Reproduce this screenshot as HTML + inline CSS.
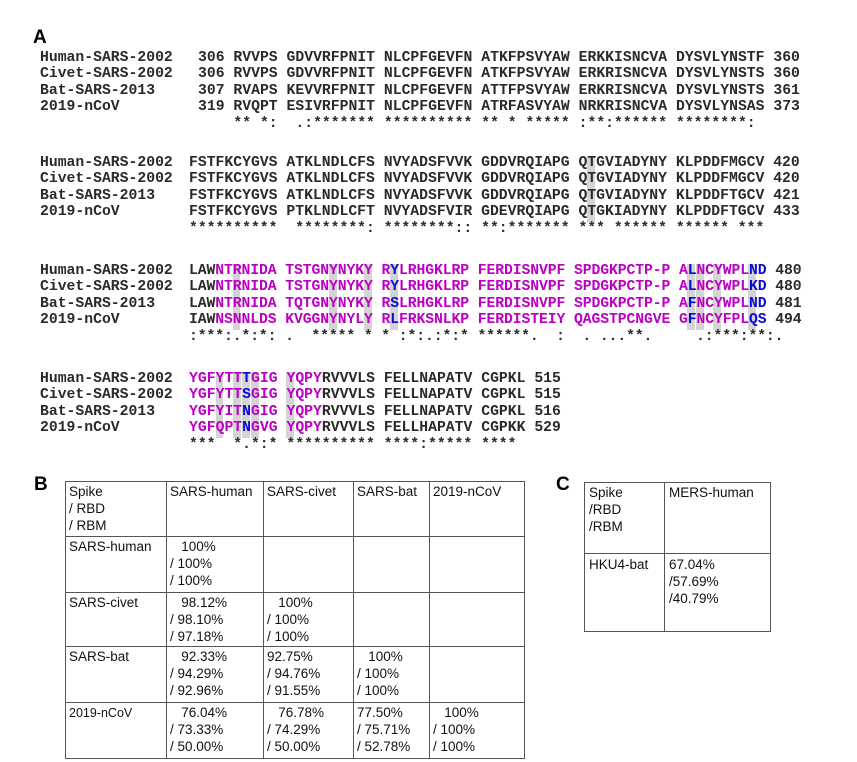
<!DOCTYPE html>
<html><head><meta charset="utf-8">
<style>
body{margin:0;background:#fff;width:857px;height:762px;position:relative;overflow:hidden;font-family:"Liberation Sans",Arial,sans-serif;}
.lbl{position:absolute;font-weight:bold;font-size:19px;}
.seq{position:absolute;font-family:"Liberation Mono","Courier New",monospace;font-size:14.75px;font-weight:bold;color:#2a2a2a;white-space:pre;line-height:16.4px;}
.hl{position:absolute;background:#d4d4d4;width:8px;}
.m{color:#bb00c4}.b{color:#0a0ad8}
.t{position:absolute;border:1.3px solid #555;box-sizing:border-box;}
.h{position:absolute;height:1.3px;background:#555}
.v{position:absolute;width:1.3px;background:#555}
.c{position:absolute;font-size:13.5px;line-height:16.8px;white-space:pre;color:#111;}
</style></head><body>
<div class="lbl" style="left:33px;top:27px">A</div>
<div id="al"></div>
<div class="lbl" style="left:34px;top:474px">B</div>
<div class="lbl" style="left:556px;top:474px">C</div>

<div class="t" style="left:65px;top:481px;width:460px;height:278px"></div>
<div class="h" style="left:65px;top:536px;width:460px"></div>
<div class="h" style="left:65px;top:592px;width:460px"></div>
<div class="h" style="left:65px;top:646px;width:460px"></div>
<div class="h" style="left:65px;top:702px;width:460px"></div>
<div class="v" style="left:166px;top:481px;height:278px"></div>
<div class="v" style="left:263px;top:481px;height:278px"></div>
<div class="v" style="left:353px;top:481px;height:278px"></div>
<div class="v" style="left:429px;top:481px;height:278px"></div>

<div class="c" style="left:69px;top:484px">Spike
/ RBD
/ RBM</div>
<div class="c" style="left:170px;top:484px">SARS-human</div>
<div class="c" style="left:267px;top:484px">SARS-civet</div>
<div class="c" style="left:357px;top:484px">SARS-bat</div>
<div class="c" style="left:433px;top:484px">2019-nCoV</div>

<div class="c" style="left:69px;top:539px">SARS-human</div>
<div class="c" style="left:170px;top:539px">   100%
/ 100%
/ 100%</div>

<div class="c" style="left:69px;top:595px">SARS-civet</div>
<div class="c" style="left:170px;top:595px">   98.12%
/ 98.10%
/ 97.18%</div>
<div class="c" style="left:267px;top:595px">   100%
/ 100%
/ 100%</div>

<div class="c" style="left:69px;top:649px">SARS-bat</div>
<div class="c" style="left:170px;top:649px">   92.33%
/ 94.29%
/ 92.96%</div>
<div class="c" style="left:267px;top:649px">92.75%
/ 94.76%
/ 91.55%</div>
<div class="c" style="left:357px;top:649px">   100%
/ 100%
/ 100%</div>

<div class="c" style="left:69px;top:705px;font-size:12.5px">2019-nCoV</div>
<div class="c" style="left:170px;top:705px">   76.04%
/ 73.33%
/ 50.00%</div>
<div class="c" style="left:267px;top:705px">   76.78%
/ 74.29%
/ 50.00%</div>
<div class="c" style="left:357px;top:705px">77.50%
/ 75.71%
/ 52.78%</div>
<div class="c" style="left:433px;top:705px">   100%
/ 100%
/ 100%</div>

<div class="t" style="left:584px;top:482px;width:187px;height:150px"></div>
<div class="h" style="left:584px;top:553px;width:187px"></div>
<div class="v" style="left:664px;top:482px;height:150px"></div>
<div class="c" style="left:589px;top:485px">Spike
/RBD
/RBM</div>
<div class="c" style="left:669px;top:485px">MERS-human</div>
<div class="c" style="left:589px;top:557px">HKU4-bat</div>
<div class="c" style="left:669px;top:557px">67.04%
/57.69%
/40.79%</div>

<script>
var names=["Human-SARS-2002","Civet-SARS-2002","Bat-SARS-2013","2019-nCoV"];
var blocks=[
{top:50,x:198,cw:8.85,lines:["306 RVVPS GDVVRFPNIT NLCPFGEVFN ATKFPSVYAW ERKKISNCVA DYSVLYNSTF 360","306 RVVPS GDVVRFPNIT NLCPFGEVFN ATKFPSVYAW ERKRISNCVA DYSVLYNSTS 360","307 RVAPS KEVVRFPNIT NLCPFGEVFN ATTFPSVYAW ERKRISNCVA DYSVLYNSTS 361","319 RVQPT ESIVRFPNIT NLCPFGEVFN ATRFASVYAW NRKRISNCVA DYSVLYNSAS 373","    ** *:  .:******* ********** ** * ***** :**:****** ********:"],hl:[],col:null},
{top:155,x:189,cw:8.85,lines:["FSTFKCYGVS ATKLNDLCFS NVYADSFVVK GDDVRQIAPG QTGVIADYNY KLPDDFMGCV 420","FSTFKCYGVS ATKLNDLCFS NVYADSFVVK GDDVRQIAPG QTGVIADYNY KLPDDFMGCV 420","FSTFKCYGVS ATKLNDLCFS NVYADSFVVK GDDVRQIAPG QTGVIADYNY KLPDDFTGCV 421","FSTFKCYGVS PTKLNDLCFT NVYADSFVIR GDEVRQIAPG QTGKIADYNY KLPDDFTGCV 433","**********  ********: ********:: **:******* *** ****** ****** ***"],hl:[45],col:null},
{top:263,x:189,cw:8.74,lines:["LAWNTRNIDA TSTGNYNYKY RYLRHGKLRP FERDISNVPF SPDGKPCTP-P ALNCYWPLND 480","LAWNTRNIDA TSTGNYNYKY RYLRHGKLRP FERDISNVPF SPDGKPCTP-P ALNCYWPLKD 480","LAWNTRNIDA TQTGNYNYKY RSLRHGKLRP FERDISNVPF SPDGKPCTP-P AFNCYWPLND 481","IAWNSNNLDS KVGGNYNYLY RLFRKSNLKP FERDISTEIY QAGSTPCNGVE GFNCYFPLQS 494",":***:.*:*: .  ***** * * :*:.:*:* ******.  :  . ...**.     .:***:**:."],hl:[5,16,20,23,57,58,60,64],
 col:function(i){if(i<3)return"";if(i==23||i==57||i==64||i==65)return"b";if(i<66)return"m";return"";}},
{top:371,x:189,cw:8.85,lines:["YGFYTTTGIG YQPYRVVVLS FELLNAPATV CGPKL 515","YGFYTTSGIG YQPYRVVVLS FELLNAPATV CGPKL 515","YGFYITNGIG YQPYRVVVLS FELLNAPATV CGPKL 516","YGFQPTNGVG YQPYRVVVLS FELLHAPATV CGPKK 529","***  *.*:* ********** ****:***** ****"],hl:[3,5,6,7,11],
 col:function(i){if(i==6)return"b";if(i<10||(i>10&&i<15))return"m";return"";}}
];
var lh=16.4,h="";
blocks.forEach(function(b){
 var cw=b.cw;
 b.hl.forEach(function(c){h+='<div class="hl" style="left:'+(b.x+c*cw)+'px;top:'+(b.top+1)+'px;height:'+(lh*4)+'px;width:'+(cw-1)+'px"></div>';});
 for(var r=0;r<5;r++){
  var y=b.top+r*lh;
  if(r<4)h+='<div class="seq" style="left:40px;top:'+y+'px">'+names[r]+'</div>';
  var s=b.lines[r],out="";
  for(var i=0;i<s.length;i++){var ch=s[i];var c=(r<4&&b.col&&ch!=" ")?b.col(i):"";out+=c?'<span class="'+c+'">'+ch+'</span>':ch;}
  h+='<div class="seq" style="left:'+b.x+'px;top:'+y+'px;letter-spacing:'+(cw-8.85)+'px">'+out+'</div>';
 }
});
document.getElementById("al").innerHTML=h;
</script>
</body></html>
